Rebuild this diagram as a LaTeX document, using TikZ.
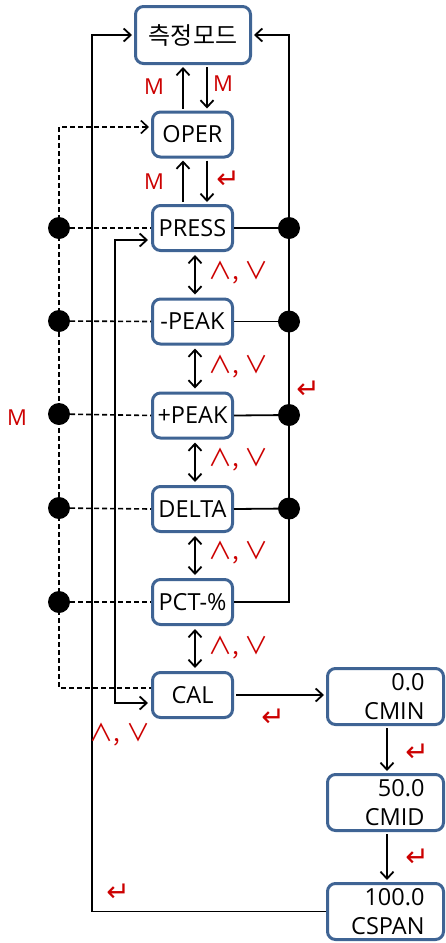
\documentclass[tikz,border=0pt]{standalone}
\usepackage{fontspec}
\setmainfont{Open Sans}
\newfontfamily\krfont{Noto Sans CJK KR}
\newfontfamily\symfont{DejaVu Sans}
\usetikzlibrary{arrows.meta,calc}
\definecolor{boxblue}{HTML}{3F6494}
\definecolor{keyred}{HTML}{CC0000}
\tikzset{
  box/.style={draw=boxblue, line width=3pt, rounded corners=8pt, fill=white,
    minimum width=80pt, minimum height=45pt, inner sep=0pt,
    font=\fontsize{23.5}{29}\selectfont},
  calbox/.style={box, minimum width=116pt, minimum height=56pt,
    align=right, text width=78pt, inner xsep=19pt},
  conn/.style={line width=1.8pt, black},
  arr/.style={conn, -{Straight Barb[length=7pt,width=13pt]}, shorten >=2pt, shorten <=2pt},
  darr/.style={conn, {Straight Barb[length=7pt,width=13pt]}-{Straight Barb[length=7pt,width=13pt]}, shorten >=3pt, shorten <=3pt},
  dsh/.style={line width=1.6pt, black, dash pattern=on 5pt off 3pt},
  dot/.style={circle, fill=black, minimum size=22pt, inner sep=0pt},
  keylab/.style={text=keyred, inner sep=0pt, font=\fontsize{22}{24}\selectfont},
  updn/.style={text=keyred, inner sep=0pt, anchor=west, font=\krfont\fontsize{24}{26}\selectfont},
  enter/.style={text=keyred, inner sep=0pt, font=\symfont\fontsize{28}{30}\selectfont}
}
\begin{document}
\begin{tikzpicture}[x=1pt,y=-1pt]
\useasboundingbox (0,0) rectangle (446,943);
% boxes
\node[box, minimum width=115pt, minimum height=57pt, font=\krfont\fontsize{24}{28}\selectfont] (meas) at (193,35) {측정모드};
\node[box] (oper) at (192.5,134.5) {OPER};
\node[box] (press) at (192.5,228) {PRESS};
\node[box] (mpeak) at (192.5,321.5) {-PEAK};
\node[box] (ppeak) at (192.5,415.5) {+PEAK};
\node[box] (delta) at (192.5,509) {DELTA};
\node[box] (pct) at (192.5,602) {PCT-\%};
\node[box] (cal) at (192.5,695) {CAL};
\node[calbox] (cmin) at (385.5,696.5) {0.0\\CMIN};
\node[calbox] (cmid) at (385.5,802.5) {50.0\\CMID};
\node[calbox] (cspan) at (385.5,911.5) {100.0\\CSPAN};
% dots
\node[dot] (l1) at (59,228) {};
\node[dot] (l2) at (59,321) {};
\node[dot] (l3) at (59,414) {};
\node[dot] (l4) at (59,508) {};
\node[dot] (l5) at (59,602) {};
\node[dot] (r1) at (289,228) {};
\node[dot] (r2) at (289,321.5) {};
\node[dot] (r3) at (289,415) {};
\node[dot] (r4) at (289,508.5) {};
\coordinate (lc) at (92,0);
\coordinate (ia) at (115,240);
\coordinate (ib) at (115,703);
% meas <-> oper
\draw[arr] ([xshift=-9.5pt]oper.north) -- ([xshift=-9.5pt]oper.north |- meas.south);
\draw[arr] ([xshift=14.5pt]oper.north |- meas.south) -- ([xshift=14.5pt]oper.north);
% oper <-> press
\draw[arr] ([xshift=-9.5pt]press.north) -- ([xshift=-9.5pt]press.north |- oper.south);
\draw[arr] ([xshift=14.5pt]press.north |- oper.south) -- ([xshift=14.5pt]press.north);
% up/down chain
\draw[darr] ([xshift=2.5pt]press.south) -- ([xshift=2.5pt]mpeak.north);
\draw[darr] ([xshift=2.5pt]mpeak.south) -- ([xshift=2.5pt]ppeak.north);
\draw[darr] ([xshift=2.5pt]ppeak.south) -- ([xshift=2.5pt]delta.north);
\draw[darr] ([xshift=2.5pt]delta.south) -- ([xshift=2.5pt]pct.north);
\draw[darr] ([xshift=2.5pt]pct.south) -- ([xshift=2.5pt]cal.north);
% left dashed column
\draw[dsh] (l1.center) -- (l2.center) -- (l3.center) -- (l4.center) -- (l5.center);
\draw[dsh, -{Straight Barb[length=7pt,width=13pt]}, shorten >=2pt] (l1.center) |- ([yshift=7.5pt]oper.west);
\draw[dsh] (l5.center) |- ([yshift=7pt]cal.west);
\draw[dsh] (l1) -- (press.west);
\draw[dsh] (l2) -- (mpeak.west);
\draw[dsh] (l3) -- (ppeak.west);
\draw[dsh] (l4) -- (delta.west);
\draw[dsh] (l5) -- (pct.west);
% right column
\draw[conn] (press.east) -- (r1);
\draw[conn] (mpeak.east) -- (r2);
\draw[conn] (ppeak.east) -- (r3);
\draw[conn] (delta.east) -- (r4);
\draw[conn] (pct.east) -| (r4.center) -- (r3.center) -- (r2.center) -- (r1.center);
\draw[arr, shorten <=0pt] (r1.center) |- (meas.east);
% outer left return
\draw[arr, shorten <=0pt] (cspan.west) -| (lc |- meas.west) -- (meas.west);
% inner wrap PRESS <-> CAL
\draw[darr] ([yshift=-12pt]press.west) -- (ia) -- (ib) -- ([yshift=-8pt]cal.west);
% calibration chain
\draw[arr] (cal.east) -- (cal.east -| cmin.west);
\draw[arr] ([xshift=1.5pt]cmin.south) -- ([xshift=1.5pt]cmid.north);
\draw[arr] ([xshift=1.5pt]cmid.south) -- ([xshift=1.5pt]cspan.north);
% key labels
\node[keylab] (k1) at (154,87) {M};
\node[keylab] (k2) at (223,84) {M};
\node[keylab] (k3) at (154,182) {M};
\node[enter] (k4) at (228,180) {↵};
\node[updn] (k5) at (208,273) {∧, ∨};
\node[updn] (k6) at (208,367) {∧, ∨};
\node[updn] (k7) at (208,460) {∧, ∨};
\node[updn] (k8) at (208,553) {∧, ∨};
\node[updn] (k9) at (208,648) {∧, ∨};
\node[enter] (k10) at (308,390) {↵};
\node[keylab] (k11) at (17,418) {M};
\node[enter] (k12) at (273,718) {↵};
\node[updn, anchor=center] (k13) at (120,735) {∧, ∨};
\node[enter] (k14) at (417,753) {↵};
\node[enter] (k15) at (417,858) {↵};
\node[enter] (k16) at (118,893) {↵};
\end{tikzpicture}
\end{document}
